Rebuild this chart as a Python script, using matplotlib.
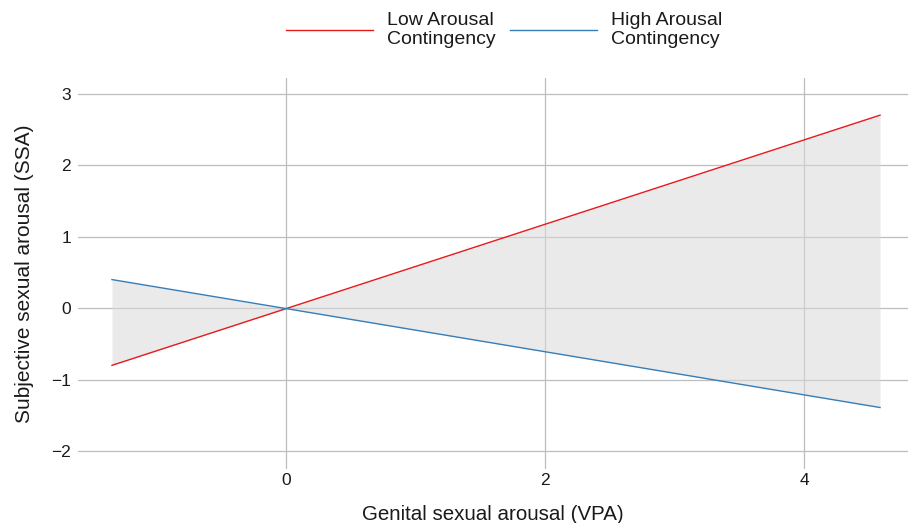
import matplotlib
matplotlib.use("Agg")
import matplotlib.pyplot as plt
import numpy as np

plt.rcParams['font.family'] = ['Liberation Sans', 'DejaVu Sans']

# Data
x_vals = [-1.344, 4.587]
low_arousal = [-0.80, 2.70]
high_arousal = [0.40, -1.39]
series_labels = ["Low Arousal\nContingency", "High Arousal\nContingency"]
x_ticks = [0, 2, 4]
y_ticks = [-2, -1, 0, 1, 2, 3]

fig = plt.figure(figsize=(9.08, 5.23), dpi=100)
ax = fig.add_axes([78/908, 54/523, 1 - 78/908, (469-78)/523])

ax.set_xlim(-1.606, 4.803)
ax.set_ylim(-2.25, 3.22)

grid_c = '#bdbdbd'
for xt in x_ticks:
    ax.axvline(xt, color=grid_c, lw=0.9, zorder=1)
for yt in y_ticks:
    ax.axhline(yt, color=grid_c, lw=0.9, zorder=1)

ax.fill_between(x_vals, low_arousal, high_arousal, color='#d9d9d9', alpha=0.55, lw=0, zorder=2)
l1, = ax.plot(x_vals, low_arousal, color='#e41a1c', lw=1.0, zorder=3)
l2, = ax.plot(x_vals, high_arousal, color='#377eb8', lw=1.0, zorder=3)

ax.set_xticks(x_ticks)
ax.set_yticks(y_ticks)
ax.set_yticklabels(['\u22122', '\u22121', '0', '1', '2', '3'])
ax.tick_params(length=0, labelsize=12.5, colors='#1a1a1a')
ax.tick_params(axis='x', pad=3)
ax.tick_params(axis='y', pad=5)
for s in ax.spines.values():
    s.set_visible(False)

ax.set_xlabel('Genital sexual arousal (VPA)', fontsize=14.8, color='#1a1a1a', labelpad=12)
ax.set_ylabel('Subjective sexual arousal (SSA)', fontsize=15, color='#1a1a1a', labelpad=12.5)

leg = fig.legend([l1, l2], series_labels, loc='center', bbox_to_anchor=(0.555, 1 - 30/523),
           ncol=2, frameon=False, fontsize=14, handlelength=4.5, handletextpad=0.72,
           columnspacing=0.72, labelcolor='#1a1a1a', borderaxespad=0)
for t in leg.get_texts():
    t.set_linespacing(1.15)

fig.savefig('out.png', dpi=100)
